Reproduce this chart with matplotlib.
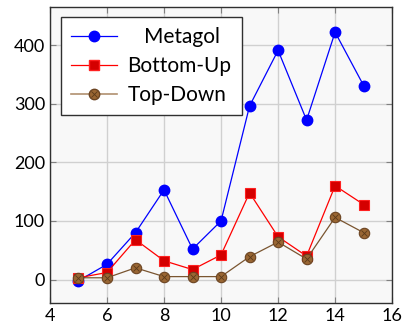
import matplotlib.pyplot as plt
from matplotlib.lines import Line2D

plt.rcParams['font.family'] = ['Lato', 'DejaVu Sans']

# данные
x = [5, 6, 7, 8, 9, 10, 11, 12, 13, 14, 15]
metagol = [-2, 26, 80, 153, 52, 100, 296, 391, 272, 422, 331]
bottom_up = [3, 12, 68, 32, 17, 42, 148, 73, 40, 160, 128]
top_down = [3, 3, 20, 5, 5, 5, 39, 64, 35, 106, 80]

xticks = [4, 6, 8, 10, 12, 14, 16]
yticks = [0, 100, 200, 300, 400]

fig = plt.figure(figsize=(4.03, 3.26), dpi=100)
ax = fig.add_axes([0.124, 0.0706, 0.849, 0.908])
ax.set_facecolor('#f8f8f8')

ax.plot(x, metagol, color='#0000ff', lw=0.9, marker='o', ms=7.5,
        mfc='#0000ff', mec='#0000ff', zorder=3)
ax.plot(x, bottom_up, color='#ff0000', lw=0.9, marker='s', ms=7,
        mfc='#d40000', mec='#ff2020', mew=0.8, zorder=4)
ax.plot(x, top_down, color='#7a5530', lw=0.9, marker='o', ms=7.5,
        mfc='#996633', mec='#6b4422', mew=0.8, zorder=5)
ax.plot(x, top_down, ls='none', marker='x', ms=5, mec='#5a3a1a',
        mew=0.6, zorder=6)

ax.set_xlim(4, 16)
ax.set_ylim(-40, 465)
ax.set_xticks(xticks)
ax.set_yticks(yticks)
ax.grid(True, color='#d0d0d0', lw=1.0)
ax.set_axisbelow(True)
ax.tick_params(direction='in', top=True, right=True, length=4,
               color='#808080', labelsize=13, labelcolor='black')
for s in ax.spines.values():
    s.set_color('#303030')
    s.set_linewidth(1.0)

# легенда
h1 = Line2D([], [], color='#0000ff', lw=0.9, marker='o', ms=7.5, mfc='#0000ff', mec='#0000ff')
h2 = Line2D([], [], color='#ff0000', lw=0.9, marker='s', ms=7, mfc='#d40000', mec='#ff2020')
h3a = Line2D([], [], color='#b09070', lw=1.2, marker='o', ms=7.5, mfc='#996633', mec='#6b4422')
h3b = Line2D([], [], ls='none', marker='x', ms=5, mec='#5a3a1a', mew=0.6)
leg = ax.legend([h1, h2, (h3a, h3b)],
                ['   Metagol', 'Bottom-Up', 'Top-Down'],
                loc='upper left', bbox_to_anchor=(0.032, 0.966),
                borderaxespad=0, fontsize=15, fancybox=False,
                edgecolor='#303030', framealpha=1, handlelength=2.2,
                handletextpad=0.5, labelspacing=0.42, borderpad=0.5)
leg.get_frame().set_linewidth(1.0)

fig.savefig('out.png', dpi=100)
